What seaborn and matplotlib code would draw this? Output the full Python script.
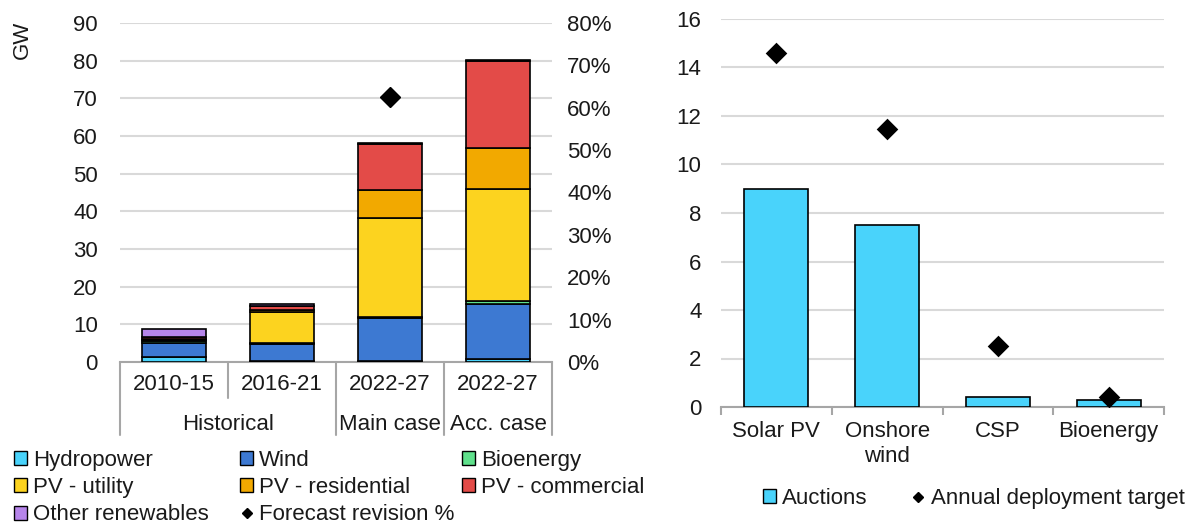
import matplotlib
matplotlib.use("Agg")
import numpy as np
import matplotlib.pyplot as plt
import seaborn as sns
from matplotlib.patches import Patch
from matplotlib.lines import Line2D
from matplotlib.ticker import PercentFormatter

# left chart: capacity additions (GW) by period
periods = ['2010-15', '2016-21', '2022-27', '2022-27']
period_groups = ['Historical', 'Historical', 'Main case', 'Acc. case']
hydro = [1.3, 0.2, 0.3, 0.7]
wind = [3.8, 4.7, 11.5, 14.8]
bioenergy = [0.4, 0.2, 0.2, 0.6]
pv_utility = [0.4, 8.2, 26.3, 29.8]
pv_residential = [0.3, 0.5, 7.3, 10.9]
pv_commercial = [0.5, 1.2, 12.2, 23.0]
other_ren = [2.1, 0.3, 0.3, 0.3]
forecast_rev = [np.nan, np.nan, 62.5, np.nan]  # %

# right chart: auctions vs annual deployment target (GW)
techs = ['Solar PV', 'Onshore\nwind', 'CSP', 'Bioenergy']
auctions = [9.0, 7.5, 0.4, 0.3]
targets = [14.6, 11.45, 2.5, 0.4]

sns.set_theme(style='white')
plt.rcParams['font.family'] = ['Liberation Sans', 'DejaVu Sans']
plt.rcParams['font.size'] = 16

TXT = '#1a1a1a'
GRID = '#d9d9d9'
AXIS = '#a6a6a6'
CYAN = '#49d3fb'

stack = [
    ('Hydropower', hydro, CYAN),
    ('Wind', wind, '#3d79d2'),
    ('Bioenergy', bioenergy, '#5fe08b'),
    ('PV - utility', pv_utility, '#fcd31f'),
    ('PV - residential', pv_residential, '#f2a900'),
    ('PV - commercial', pv_commercial, '#e34b48'),
    ('Other renewables', other_ren, '#b685ea'),
]

W, H = 1192, 525
fig = plt.figure(figsize=(W / 100, H / 100), dpi=100)

######## Left chart ########
ax = fig.add_axes([120 / W, 163 / H, 432 / W, 339 / H])
x = np.arange(len(periods))
bottom = np.zeros(len(periods))
for name, vals, col in stack:
    ax.bar(x, vals, 0.59, bottom=bottom, color=col, edgecolor='black',
           linewidth=1.2, zorder=3, label=name)
    bottom += np.array(vals)

ax.set_xlim(-0.5, len(periods) - 0.5)
ax.set_ylim(0, 90)
ax.set_yticks(range(0, 91, 10))
ax.set_axisbelow(True)
ax.yaxis.grid(True, color=GRID, lw=1.5)
ax.xaxis.grid(False)
for s in ['top', 'left', 'right']:
    ax.spines[s].set_visible(False)
ax.spines['bottom'].set_color(AXIS)
ax.spines['bottom'].set_linewidth(1.5)
ax.set_xticks([])
ax.tick_params(axis='y', length=0, pad=16, labelsize=16, labelcolor=TXT)
ax.set_ylabel('')
fig.text(22 / W, 1 - 40 / H, 'GW', rotation=90, ha='center', va='center',
         fontsize=16, color=TXT)

# two-level category axis
trans = ax.get_xaxis_transform()
for i, p in enumerate(periods):
    ax.text(i, -0.065, p, transform=trans, ha='center', va='center',
            fontsize=16, color=TXT)
start = 0
for i in range(1, len(periods) + 1):
    if i == len(periods) or period_groups[i] != period_groups[start]:
        ax.text((start + i - 1) / 2, -0.185, period_groups[start], transform=trans,
                ha='center', va='center', fontsize=16, color=TXT)
        start = i
for b in range(len(periods) + 1):
    inner = 0 < b < len(periods) and period_groups[b - 1] == period_groups[b]
    depth = -0.106 if inner else -0.215
    ax.plot([b - 0.5, b - 0.5], [0, depth], transform=trans, clip_on=False,
            color=AXIS, lw=1.5)

ax2 = ax.twinx()
ax2.set_ylim(0, 80)
ax2.set_yticks(range(0, 81, 10))
ax2.yaxis.set_major_formatter(PercentFormatter(xmax=100, decimals=0))
ax2.tick_params(axis='y', length=0, pad=11, labelsize=16, labelcolor=TXT)
ax2.grid(False)
for s in ax2.spines.values():
    s.set_visible(False)
ax2.plot(x, forecast_rev, linestyle='none', marker='D', ms=10, color='black',
         zorder=5)

# left legend (three fixed columns)
patch = {name: Patch(facecolor=col, edgecolor='black', linewidth=1)
         for name, _, col in stack}
diamond_small = Line2D([], [], linestyle='none', marker='D', ms=5, color='black')
columns = [
    (14, ['Hydropower', 'PV - utility', 'Other renewables']),
    (240, ['Wind', 'PV - residential', 'Forecast revision %']),
    (462, ['Bioenergy', 'PV - commercial']),
]
for xpx, names in columns:
    hs = [patch[n] if n in patch else diamond_small for n in names]
    fig.legend(hs, names, loc='upper left', bbox_to_anchor=(xpx / W, 1 - 450 / H),
               frameon=False, fontsize=16, borderpad=0, borderaxespad=0,
               handlelength=0.6, handleheight=0.6, handletextpad=0.25,
               labelspacing=0.28, labelcolor=TXT)

######## Right chart ########
bx = fig.add_axes([721 / W, 118 / H, 443 / W, 388 / H])
sns.barplot(x=techs, y=auctions, ax=bx, color=CYAN, width=0.58,
            edgecolor='black', linewidth=1.2, saturation=1, zorder=3)
sns.stripplot(x=techs, y=targets, ax=bx, jitter=False, marker='D', size=11,
              color='black', zorder=5)
bx.set_xlim(-0.5, len(techs) - 0.5)
bx.set_ylim(0, 16)
bx.set_yticks(range(0, 17, 2))
bx.set_axisbelow(True)
bx.yaxis.grid(True, color=GRID, lw=1.5)
bx.xaxis.grid(False)
for s in ['top', 'left', 'right']:
    bx.spines[s].set_visible(False)
bx.spines['bottom'].set_color(AXIS)
bx.spines['bottom'].set_linewidth(1.5)
bx.set_xticks(range(len(techs)))
bx.set_xticklabels(techs, linespacing=1.25)
bx.set_xticks(np.arange(len(techs) + 1) - 0.5, minor=True)
bx.tick_params(axis='x', which='major', length=0, pad=10, labelsize=16,
               labelcolor=TXT)
bx.tick_params(axis='x', which='minor', length=6, width=1.5, color=AXIS,
               direction='out', bottom=True)
bx.tick_params(axis='y', length=0, pad=14, labelsize=16, labelcolor=TXT)
bx.set_xlabel('')
bx.set_ylabel('')

r_handles = [Patch(facecolor=CYAN, edgecolor='black', linewidth=1), diamond_small]
fig.legend(r_handles, ['Auctions', 'Annual deployment target'], loc='upper left',
           bbox_to_anchor=(763 / W, 1 - 488 / H), ncol=2, frameon=False,
           fontsize=16, borderpad=0, borderaxespad=0, handlelength=0.6,
           handleheight=0.6, handletextpad=0.25, columnspacing=2.0,
           labelcolor=TXT)

fig.savefig('out.png', dpi=100)
